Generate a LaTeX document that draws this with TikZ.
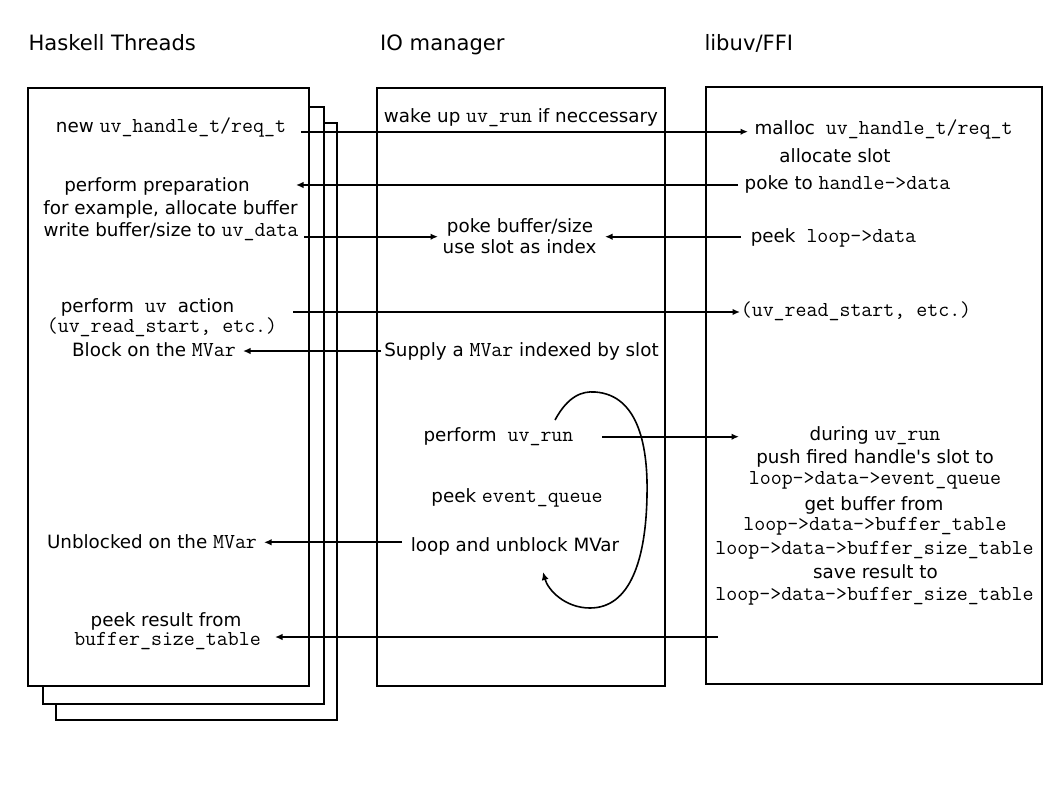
\documentclass[tikz,border=0pt]{standalone}
\usepackage{fontspec}
\setmainfont{DejaVu Sans}[Ligatures=TeXOff]
\usetikzlibrary{arrows.meta}
% inline code in a typewriter face
\newcommand\code[1]{{\fontsize{21.3}{24}\ttfamily #1}}

\begin{document}
\begin{tikzpicture}[x=1pt,y=-1pt,
  txt/.style={anchor=base,inner sep=0pt,font=\fontsize{18.3}{22}\selectfont},
  title/.style={anchor=base west,inner sep=0pt,font=\fontsize{21.1}{25}\selectfont},
  panel/.style={draw=black,line width=2pt,fill=white},
  arr/.style={line width=1.8pt,-{Latex[length=7.5pt,width=6.5pt]}},
  loopline/.style={line width=1.6pt,-{Latex[length=8pt,width=7pt]}},
]
\useasboundingbox (0,0) rectangle (1059,794);

% column titles
\node[title] (tHs) at (28.3,51) {Haskell Threads};
\node[title] (tIO) at (380,51)  {IO manager};
\node[title] (tUV) at (704.3,51) {libuv/FFI};

% stacked thread cards, back to front
\draw[panel] (55.5,123.3) rectangle (336.7,720);
\draw[panel] (42.7,106.7) rectangle (324,704);
\draw[panel] (27.5,88.3)  rectangle (309.3,685.5);
% IO manager and libuv panels
\draw[panel] (377.3,88.3) rectangle (665.3,685.5);
\draw[panel] (705.5,87)   rectangle (1041.7,684);

% Haskell thread side
\node[txt] (newh)   at (171,132.7)   {new \code{uv\_handle\_t/req\_t}};
\node[txt] (prep)   at (157,191.7)   {perform preparation};
\node[txt] (alloc)  at (170.5,215)   {for example, allocate buffer};
\node[txt] (wbuf)   at (171,236.7)   {write buffer/size to \code{uv\_data}};
\node[txt,text depth=0pt] (act) at (147.5,312.5) {perform\code{ uv }action};
\node[txt] (actc)   at (162,332)     {\code{(uv\_read\_start, etc.)}};
\node[txt] (block)  at (154,356.7)   {Block on the \code{MVar}};
\node[txt] (unblk)  at (152,548.3)   {Unblocked on the \code{MVar}};
\node[txt] (peekr)  at (166,626)     {peek result from};
\node[txt] (peekt)  at (167.5,645.7) {\code{buffer\_size\_table}};

% IO manager side
\node[txt] (wake)   at (521,122.3)   {wake up \code{uv\_run} if neccessary};
\node[txt] (pokeb)  at (520,232.7)   {poke buffer/size};
\node[txt] (slot)   at (519.5,253.3) {use slot as index};
\node[txt] (supply) at (521.5,356.7) {Supply a \code{MVar} indexed by slot};
\node[txt] (run)    at (498.5,441.7) {perform\code{ uv\_run}};
\node[txt] (peekq)  at (517,502.7)   {peek \code{event\_queue}};
\node[txt] (loopu)  at (515,551.7)   {loop and unblock MVar};

% libuv side
\node[txt] (malloc) at (883.5,135)   {malloc\code{ uv\_handle\_t/req\_t}};
\node[txt] (aslot)  at (835,162.7)   {allocate slot};
\node[txt] (poke)   at (847.5,190)   {poke to \code{handle->data}};
\node[txt] (peekl)  at (833.5,242.7) {peek\code{ loop->data}};
\node[txt] (rstart) at (856,316.7)   {\code{(uv\_read\_start, etc.)}};
\node[txt] (during) at (875,440)     {during \code{uv\_run}};
\node[txt] (push)   at (875,463.3)   {push fired handle's slot to};
\node[txt] (evq)    at (875,484)     {\code{loop->data->event\_queue}};
\node[txt] (getb)   at (874,510)     {get buffer from};
\node[txt] (btab)   at (875,530)     {\code{loop->data->buffer\_table}};
\node[txt] (bstab)  at (874.5,554)   {\code{loop->data->buffer\_size\_table}};
\node[txt] (save)   at (875.5,578.3) {save result to};
\node[txt] (sres)   at (874.5,600.7) {\code{loop->data->buffer\_size\_table}};

% connector end points
\coordinate (newh-o)   at (301,131.7);  \coordinate (malloc-i) at (748,131.7);
\coordinate (poke-o)   at (738,185);    \coordinate (prep-i)   at (296,185);
\coordinate (wbuf-o)   at (304,236.7);  \coordinate (pokeb-i)  at (438,236.7);
\coordinate (peekl-o)  at (741,236.7);  \coordinate (slot-i)   at (605,236.7);
\coordinate (act-o)    at (293,312);    \coordinate (rstart-i) at (740,312);
\coordinate (supply-o) at (381,351);    \coordinate (block-i)  at (243,351);
\coordinate (run-o)    at (602,436.7);  \coordinate (during-i) at (739,436.7);
\coordinate (loopu-o)  at (402,542.3);  \coordinate (unblk-i)  at (264,542.3);
\coordinate (sres-o)   at (718,637);    \coordinate (peekt-i)  at (275,637);

\draw[arr] (newh-o)   -- (malloc-i);
\draw[arr] (poke-o)   -- (prep-i);
\draw[arr] (wbuf-o)   -- (pokeb-i);
\draw[arr] (peekl-o)  -- (slot-i);
\draw[arr] (act-o)    -- (rstart-i);
\draw[arr] (supply-o) -- (block-i);
\draw[arr] (run-o)    -- (during-i);
\draw[arr] (loopu-o)  -- (unblk-i);
\draw[arr] (sres-o)   -- (peekt-i);

% event loop cycle
\coordinate (cyc-s) at (555,420);
\coordinate (cyc-t) at (595,392);
\coordinate (cyc-r) at (647,495);
\coordinate (cyc-b) at (590,608);
\coordinate (cyc-e) at (543,572);
\draw[loopline] (cyc-s) .. controls (568,396) and (582,391) .. (cyc-t)
  .. controls (640,395) and (648,450) .. (cyc-r)
  .. controls (646,560) and (630,608) .. (cyc-b)
  .. controls (565,608) and (548,590) .. (cyc-e);
\end{tikzpicture}
\end{document}
